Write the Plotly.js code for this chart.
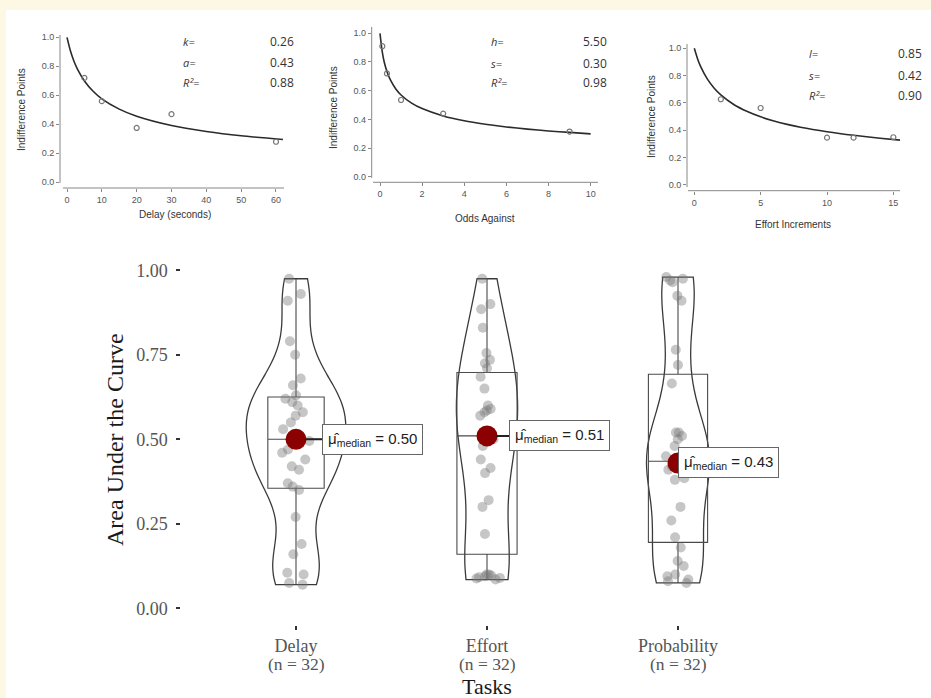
<!DOCTYPE html>
<html>
<head>
<meta charset="utf-8">
<script src="https://cdn.plot.ly/plotly-3.0.1.min.js"></script>
<style>html,body{margin:0;padding:0;background:#fdf8e3;}#chart{width:931px;height:698px;}</style>
</head>
<body>
<div id="chart"></div>
<script>
// ---- Top panels: indifference points and fitted curves ----
var delayX = [5, 10, 20, 30, 60];
var delayY = [0.72, 0.56, 0.375, 0.47, 0.28];
var delayCurveX = [0, 1, 2, 3, 5, 7.5, 10, 15, 20, 30, 40, 50, 62];
var delayCurveY = [1.0, 0.905, 0.835, 0.781, 0.699, 0.628, 0.576, 0.505, 0.456, 0.392, 0.351, 0.321, 0.295];

var oddsX = [0.11, 0.33, 1, 3, 9];
var oddsY = [0.91, 0.72, 0.535, 0.44, 0.315];
var oddsCurveX = [0, 0.1, 0.2, 0.35, 0.5, 0.75, 1, 1.5, 2, 3, 4, 5, 6, 7, 8, 9, 10];
var oddsCurveY = [1.0, 0.877, 0.800, 0.725, 0.673, 0.612, 0.570, 0.513, 0.475, 0.424, 0.390, 0.366, 0.347, 0.332, 0.319, 0.309, 0.299];

var effortX = [2, 5, 10, 12, 15];
var effortY = [0.627, 0.563, 0.346, 0.346, 0.349];
var effortCurveX = [0, 0.25, 0.5, 1, 1.5, 2, 3, 4, 5, 6, 7, 8, 10, 12, 14, 15.5];
var effortCurveY = [1.0, 0.922, 0.862, 0.772, 0.708, 0.659, 0.587, 0.537, 0.498, 0.468, 0.443, 0.422, 0.389, 0.363, 0.342, 0.328];

var delayParams = [["k=", "0.26"], ["a=", "0.43"], ["R²=", "0.88"]];
var oddsParams = [["h=", "5.50"], ["s=", "0.30"], ["R²=", "0.98"]];
var effortParams = [["l=", "0.85"], ["s=", "0.42"], ["R²=", "0.90"]];

// ---- Bottom panel: area under the curve per task ----
var tasks = ["Delay", "Effort", "Probability"];
var taskN = [32, 32, 32];
var aucDelay = [0.07, 0.075, 0.10, 0.105, 0.16, 0.19, 0.27, 0.35, 0.36, 0.37, 0.41, 0.42, 0.44, 0.46, 0.47, 0.495,
                0.505, 0.53, 0.55, 0.57, 0.58, 0.60, 0.61, 0.62, 0.63, 0.66, 0.68, 0.75, 0.79, 0.91, 0.93, 0.975];
var aucEffort = [0.085, 0.088, 0.09, 0.092, 0.095, 0.097, 0.10, 0.10, 0.22, 0.30, 0.32, 0.40, 0.415, 0.44, 0.48, 0.50,
                 0.52, 0.57, 0.58, 0.585, 0.59, 0.60, 0.65, 0.685, 0.71, 0.725, 0.735, 0.755, 0.83, 0.885, 0.90, 0.975];
var aucProb = [0.075, 0.08, 0.085, 0.095, 0.10, 0.125, 0.14, 0.18, 0.21, 0.26, 0.30, 0.38, 0.385, 0.41, 0.42, 0.43,
               0.44, 0.45, 0.48, 0.50, 0.51, 0.52, 0.52, 0.665, 0.72, 0.765, 0.91, 0.925, 0.965, 0.97, 0.975, 0.98];
var medians = [0.50, 0.51, 0.43];
var yTicks = [0, 0.25, 0.5, 0.75, 1.0];
var yTickText = ["0.00", "0.25", "0.50", "0.75", "1.00"];

// ---- helpers (pixel -> paper) ----
var W = 931, H = 698;
function px(x) { return x / W; }
function py(y) { return 1 - y / H; }

var traces = [];
function addTop(cx, cy, ptx, pty, xa, ya) {
  traces.push({type: 'scatter', mode: 'lines', x: cx, y: cy, xaxis: xa, yaxis: ya,
    line: {color: '#2b2b2b', width: 1.6, shape: 'spline', smoothing: 0.6}, hoverinfo: 'skip', showlegend: false});
  traces.push({type: 'scatter', mode: 'markers', x: ptx, y: pty, xaxis: xa, yaxis: ya,
    marker: {symbol: 'circle-open', size: 5, color: '#777', line: {width: 1.2, color: '#777'}}, showlegend: false});
}
addTop(delayCurveX, delayCurveY, delayX, delayY, 'x', 'y');
addTop(oddsCurveX, oddsCurveY, oddsX, oddsY, 'x2', 'y2');
addTop(effortCurveX, effortCurveY, effortX, effortY, 'x3', 'y3');

var aucData = [aucDelay, aucEffort, aucProb];
var violinWidths = [0.52, 0.32, 0.33];
var bandwidths = [0.085, 0.14, 0.12];
var boxWidths = [0.295, 0.315, 0.31];
for (var i = 0; i < 3; i++) {
  traces.push({type: 'violin', y: aucData[i], x0: i, xaxis: 'x4', yaxis: 'y4', name: tasks[i],
    width: violinWidths[i], bandwidth: bandwidths[i], spanmode: 'hard', points: false,
    box: {visible: false}, meanline: {visible: false},
    line: {color: '#3a3a3a', width: 1.3}, fillcolor: 'rgba(0,0,0,0)', showlegend: false, hoverinfo: 'skip'});
}
for (var j = 0; j < 3; j++) {
  traces.push({type: 'box', y: aucData[j], x0: j, xaxis: 'x4', yaxis: 'y4', name: tasks[j],
    width: boxWidths[j], boxpoints: 'all', jitter: 0.55, pointpos: 0, quartilemethod: 'linear',
    line: {color: '#4a4a4a', width: 1.1}, fillcolor: 'rgba(0,0,0,0)', whiskerwidth: 0,
    marker: {color: 'rgba(120,120,120,0.42)', size: 10, line: {width: 0}},
    showlegend: false, hoverinfo: 'skip'});
}
traces.push({type: 'scatter', mode: 'markers', x: [0, 1, 2], y: medians, xaxis: 'x4', yaxis: 'y4',
  marker: {color: '#8b0000', size: 21}, showlegend: false, hoverinfo: 'skip'});

var tickFontTop = {family: 'Liberation Sans, Arial, sans-serif', size: 9, color: '#555'};
function topAxis(dom, rng, vals, anchor, fmt) {
  var a = {domain: dom, range: rng, tickvals: vals, anchor: anchor, ticks: 'outside', ticklen: 3,
    tickcolor: '#888', tickwidth: 1, showline: false, showgrid: false, zeroline: false,
    tickfont: tickFontTop, fixedrange: true};
  if (fmt) a.tickformat = fmt;
  return a;
}

var serif = 'Liberation Serif, Times New Roman, serif';
var layout = {
  width: W, height: H, autosize: false,
  margin: {l: 0, r: 0, t: 0, b: 0},
  paper_bgcolor: '#fdf8e3', plot_bgcolor: 'rgba(0,0,0,0)',
  font: {family: 'Liberation Sans, Arial, sans-serif'},
  showlegend: false,
  violinmode: 'overlay', boxmode: 'overlay',
  xaxis: topAxis([px(60), px(284)], [-2.01, 62.3], [0, 10, 20, 30, 40, 50, 60], 'y'),
  yaxis: topAxis([py(188), py(35)], [-0.039, 1.016], [0, 0.2, 0.4, 0.6, 0.8, 1.0], 'x', '.1f'),
  xaxis2: topAxis([px(371.7), px(598)], [-0.394, 10.35], [0, 2, 4, 6, 8, 10], 'y2'),
  yaxis2: topAxis([py(182.3), py(27)], [-0.039, 1.044], [0, 0.2, 0.4, 0.6, 0.8, 1.0], 'x2', '.1f'),
  xaxis3: topAxis([px(687), px(900)], [-0.55, 15.5], [0, 5, 10, 15], 'y3'),
  yaxis3: topAxis([py(190.7), py(44)], [-0.042, 1.031], [0, 0.2, 0.4, 0.6, 0.8, 1.0], 'x3', '.1f'),
  xaxis4: {domain: [px(181.4), px(792.6)], range: [-0.6, 2.6], anchor: 'y4',
    tickvals: [0, 1, 2], ticktext: tasks,
    ticks: 'outside', ticklen: 4, tickwidth: 2, tickcolor: '#333', showline: false, showgrid: false,
    zeroline: false, tickfont: {family: serif, size: 18, color: '#555'}, ticklabelstandoff: 0},
  yaxis4: {domain: [py(625.2), py(253.4)], range: [-0.05, 1.05], anchor: 'x4',
    tickvals: yTicks, ticktext: yTickText, ticks: 'outside', ticklen: 4, tickwidth: 2, tickcolor: '#333',
    showline: false, showgrid: false, zeroline: false, tickfont: {family: serif, size: 18, color: '#555'},
    ticklabelstandoff: 5},
  shapes: [
    {type: 'rect', xref: 'paper', yref: 'paper', x0: px(6), x1: 1, y0: 0, y1: py(10),
      fillcolor: '#ffffff', line: {width: 0}, layer: 'below'},
    {type: 'line', xref: 'x domain', yref: 'y domain', x0: 0, x1: 0, y0: 0.033, y1: 1, line: {color: '#888', width: 1}},
    {type: 'line', xref: 'x domain', yref: 'y domain', x0: 0.013, x1: 1, y0: 0, y1: 0, line: {color: '#888', width: 1}},
    {type: 'line', xref: 'x2 domain', yref: 'y2 domain', x0: 0, x1: 0, y0: 0.028, y1: 1, line: {color: '#888', width: 1}},
    {type: 'line', xref: 'x2 domain', yref: 'y2 domain', x0: 0.006, x1: 1, y0: 0, y1: 0, line: {color: '#888', width: 1}},
    {type: 'line', xref: 'x3 domain', yref: 'y3 domain', x0: 0, x1: 0, y0: 0.025, y1: 1, line: {color: '#888', width: 1}},
    {type: 'line', xref: 'x3 domain', yref: 'y3 domain', x0: 0.005, x1: 1, y0: 0, y1: 0, line: {color: '#888', width: 1}}
  ],
  annotations: []
};

var ann = layout.annotations;
function txt(text, x, y, opts) {
  var a = {text: text, xref: 'paper', yref: 'paper', x: px(x), y: py(y), showarrow: false,
    xanchor: 'center', yanchor: 'middle', font: {family: 'Liberation Sans, Arial, sans-serif', size: 10, color: '#333'}};
  for (var k in opts) a[k] = opts[k];
  return a;
}
// top axis titles
ann.push(txt('Delay (seconds)', 175, 214, {}));
ann.push(txt('Indifference Points', 21, 110, {textangle: -90}));
ann.push(txt('Odds Against', 485, 218, {}));
ann.push(txt('Indifference Points', 333, 108, {textangle: -90}));
ann.push(txt('Effort Increments', 793, 224, {}));
ann.push(txt('Indifference Points', 651, 117, {textangle: -90}));
// parameter tables
function params(list, xl, xr, ys) {
  for (var k = 0; k < list.length; k++) {
    ann.push(txt('<i>' + list[k][0] + '</i>', xl, ys[k], {xanchor: 'left', font: {family: 'Open Sans, sans-serif', size: 11, color: '#333'}}));
    ann.push(txt(list[k][1], xr, ys[k], {xanchor: 'right', font: {family: 'Open Sans, sans-serif', size: 12, color: '#333'}}));
  }
}
params(delayParams, 181, 296, [42, 62, 83]);
params(oddsParams, 489, 609, [42, 63, 83]);
params(effortParams, 807, 924, [54, 75, 95]);
// sample sizes under the category labels
for (var c = 0; c < 3; c++) {
  ann.push({xref: 'x4', yref: 'paper', x: c, y: py(664), text: '(n = ' + taskN[c] + ')', showarrow: false,
    xanchor: 'center', yanchor: 'middle', borderpad: 0, font: {family: serif, size: 17.5, color: '#555'}});
}
// main titles
ann.push(txt('Area Under the Curve', 115, 440, {textangle: -90, font: {family: serif, size: 24, color: '#1a1a1a'}}));
ann.push(txt('Tasks', 487, 686, {borderpad: 0, font: {family: serif, size: 22, color: '#1a1a1a'}}));
// median labels
var labelOffsets = [76, 72, 50];
for (var m = 0; m < 3; m++) {
  ann.push({xref: 'x4', yref: 'y4', x: m, y: medians[m],
    text: 'μ̂<sub>median</sub> = ' + medians[m].toFixed(2),
    showarrow: true, ax: labelOffsets[m], ay: 0, arrowhead: 0, arrowwidth: 2,
    arrowcolor: m === 2 ? 'rgba(0,0,0,0)' : '#222', standoff: 9,
    bgcolor: '#ffffff', bordercolor: '#666', borderwidth: 1, borderpad: 5,
    font: {family: 'Liberation Sans, Arial, sans-serif', size: 15, color: '#222'}});
}

Plotly.newPlot('chart', traces, layout, {displayModeBar: false, staticPlot: true});
</script>
</body>
</html>
